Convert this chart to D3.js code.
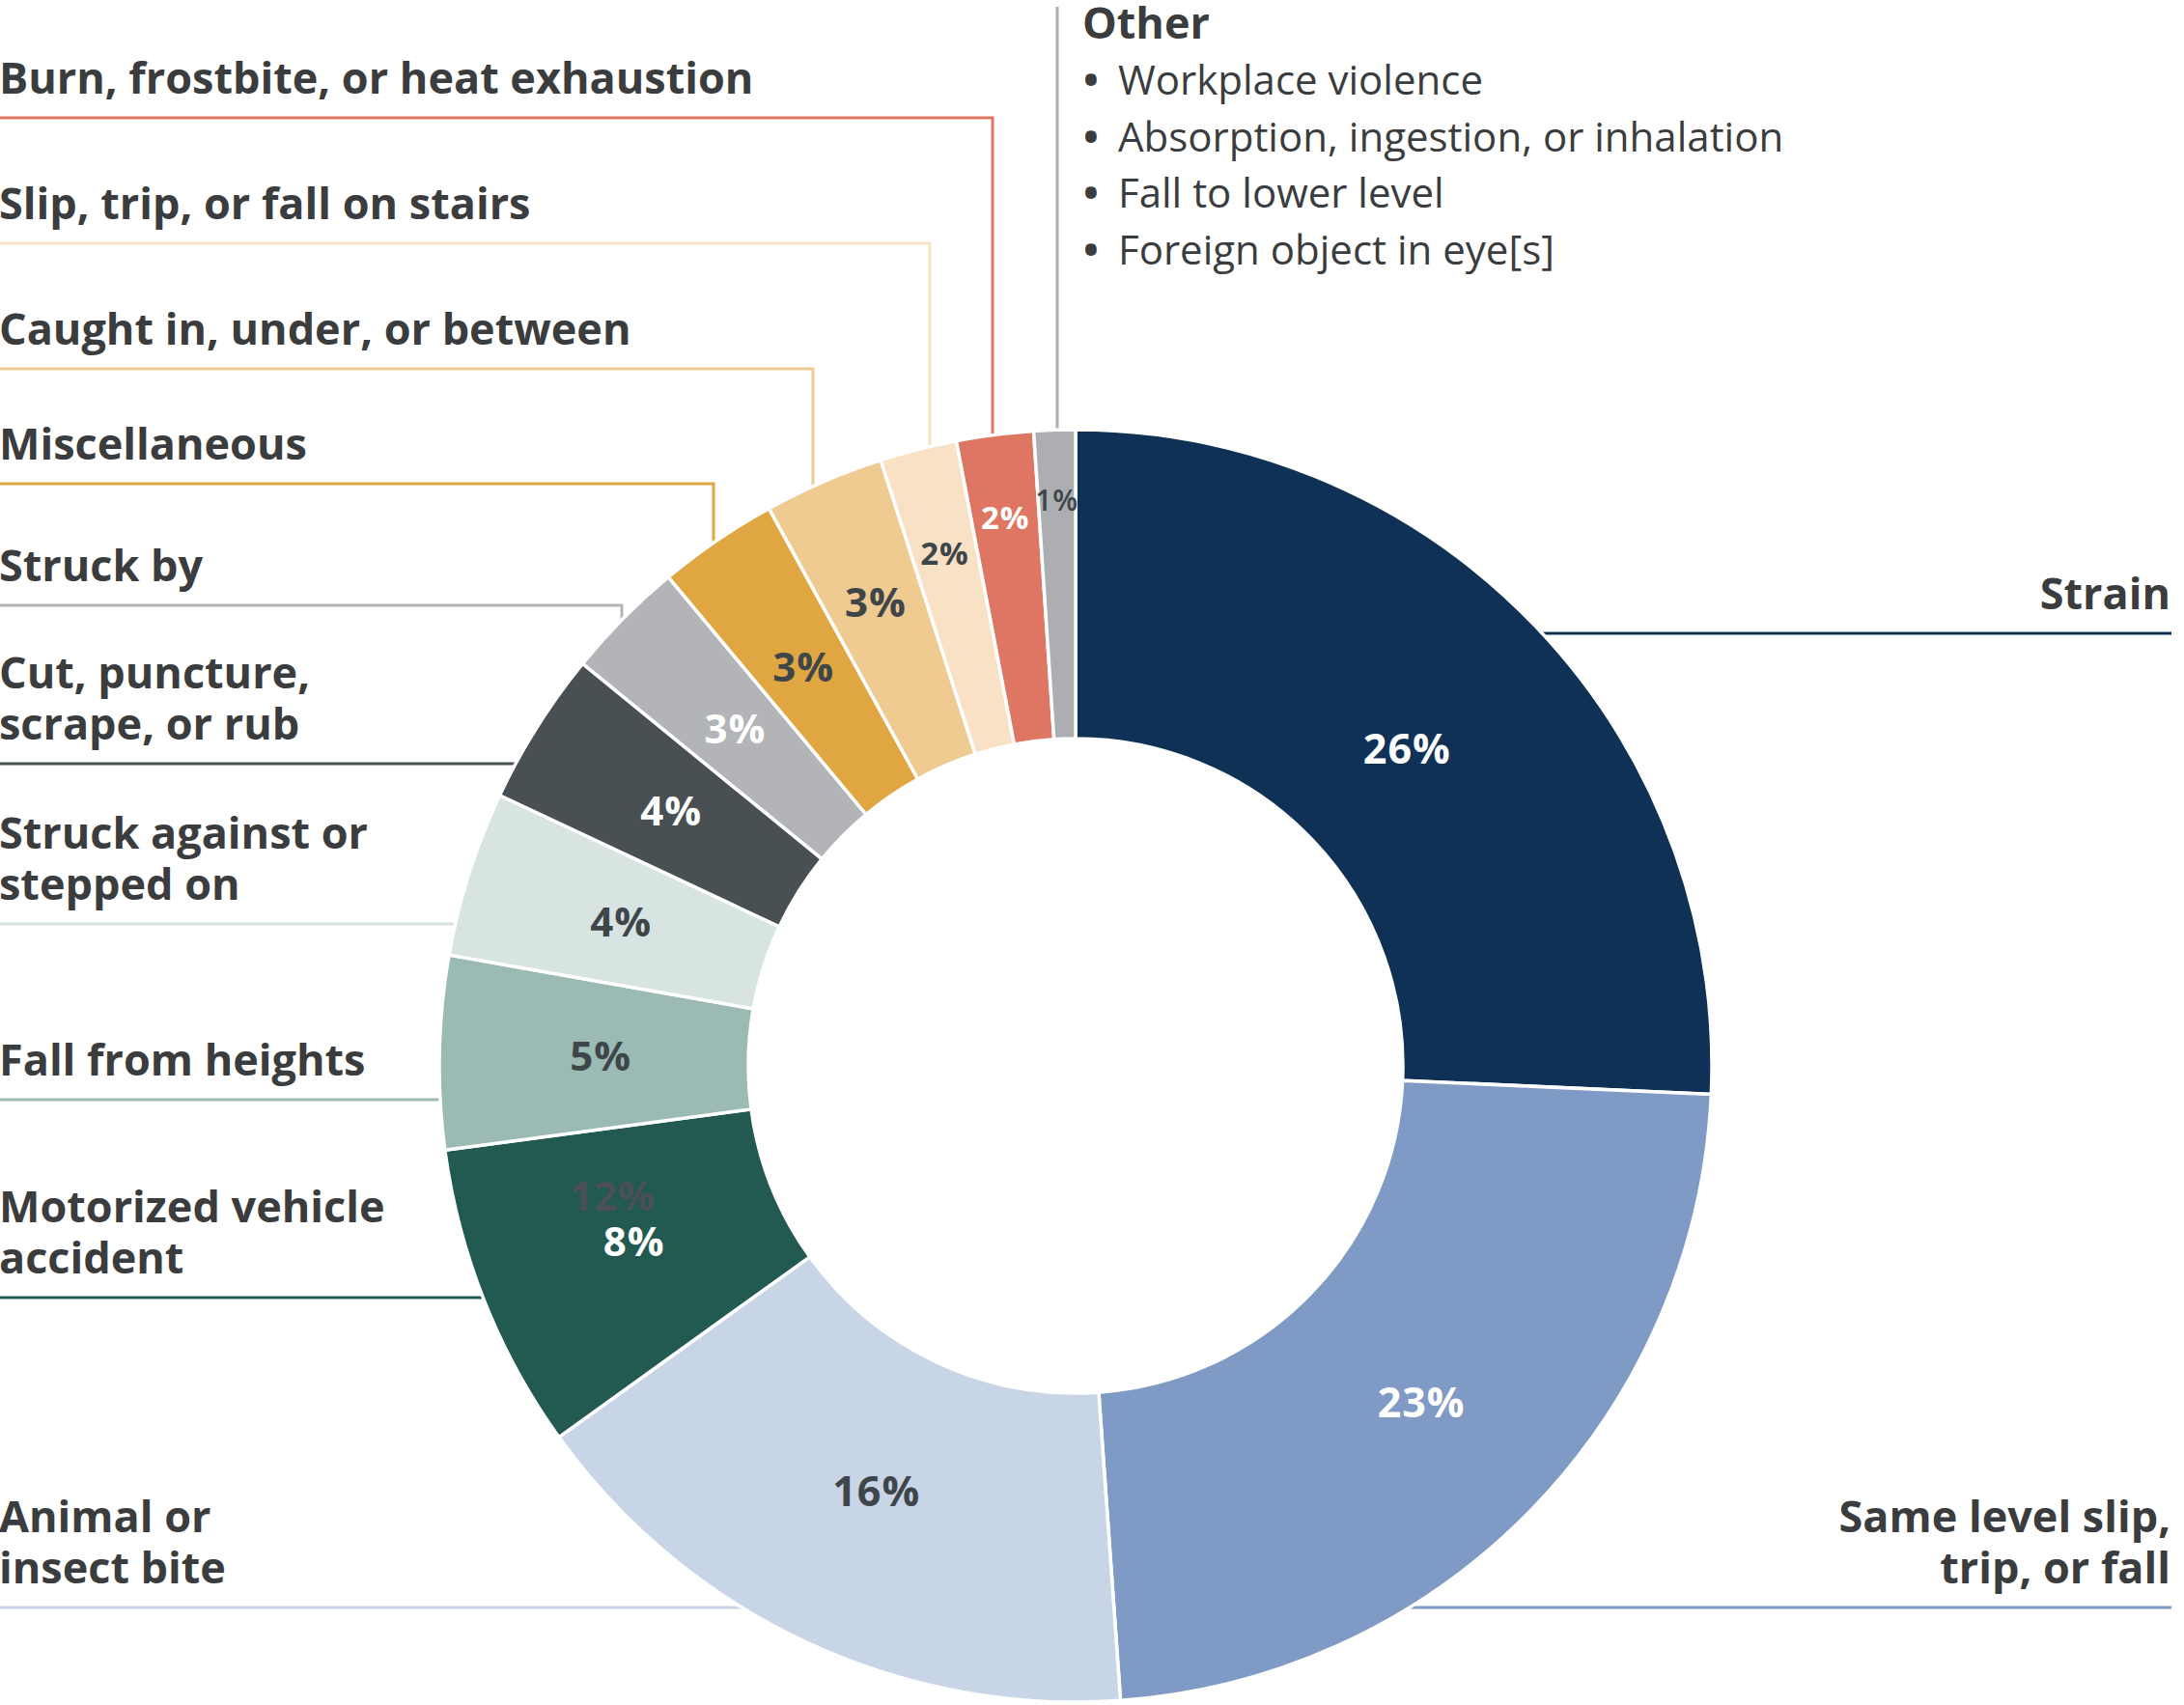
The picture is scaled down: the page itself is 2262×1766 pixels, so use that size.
<!DOCTYPE html>
<html><head><meta charset="utf-8">
<script src="https://cdn.jsdelivr.net/npm/d3@7"></script>
<style>html,body{margin:0;padding:0;background:#fff;} svg{display:block;}</style>
</head><body>
<svg id="chart" width="2262" height="1766"></svg>
<script>
// ---- data ----
const categories = [
  "Strain",
  "Same level slip, trip, or fall",
  "Animal or insect bite",
  "Motorized vehicle accident",
  "Fall from heights",
  "Struck against or stepped on",
  "Cut, puncture, scrape, or rub",
  "Struck by",
  "Miscellaneous",
  "Caught in, under, or between",
  "Slip, trip, or fall on stairs",
  "Burn, frostbite, or heat exhaustion",
  "Other"
];
const values = [25.7, 23.15, 16.2, 7.8, 4.9, 4.2, 3.9, 3.05, 3.05, 3.05, 1.95, 1.95, 1.05];
const pctLabels = ["26%","23%","16%","8%","5%","4%","4%","3%","3%","3%","2%","2%","1%"];
const labelLines = [
  ["Strain"],
  ["Same level slip,","trip, or fall"],
  ["Animal or","insect bite"],
  ["Motorized vehicle","accident"],
  ["Fall from heights"],
  ["Struck against or","stepped on"],
  ["Cut, puncture,","scrape, or rub"],
  ["Struck by"],
  ["Miscellaneous"],
  ["Caught in, under, or between"],
  ["Slip, trip, or fall on stairs"],
  ["Burn, frostbite, or heat exhaustion"],
  null
];
const otherTitle = "Other";
const otherItems = ["Workplace violence","Absorption, ingestion, or inhalation","Fall to lower level","Foreign object in eye[s]"];
const ghostLabel = "12%";

// ---- styles / layout ----
const colors = ["#0f3156","#7f9ac4","#c8d5e6","#225950","#9bbab3","#d7e4e1","#495053","#b2b4b7","#e0a641","#efcb92","#f8e1c5","#df7563","#adaeb2"];
const pctColors = ["#fff","#fff","#3f464a","#fff","#3f464a","#3f464a","#fff","#fff","#3f464a","#3f464a","#3f464a","#fff","#3f464a"];
const pctSize = [43,43,43,42,42,42,42,42,42,42,33,33,30];
const pctWeight = [700,700,700,700,700,700,700,700,700,700,700,700,600];
const pctRadius = [475,500,486,492,492,494,495,496,500,523,548,573,586];
const side = ["right","right","left","left","left","left","left","left","left","left","left","left",null];
const leaderY = [656,1665,1665,1344,1139,957,791,627,501,382,252,122,null];
const elbowX = [null,null,null,null,null,null,null,644,739,842,963,1028,null];

const W = 2262, H = 1766, cx = 1114, cy = 1104, R = 659, r0 = 339;
const textColor = "#3b3c3e";
const FONT = "'Open Sans', sans-serif";
const svg = d3.select("#chart");

const data = categories.map((c,i)=>({i, cat:c, value:values[i]}));
const pie = d3.pie().sort(null).value(d=>d.value).startAngle(0).endAngle(2*Math.PI);
const arcs = pie(data);
const arc = d3.arc().innerRadius(r0).outerRadius(R);

const ringX = y => Math.sqrt(Math.max(0, R*R - (y-cy)*(y-cy)));
const ringY = x => Math.sqrt(Math.max(0, R*R - (x-cx)*(x-cx)));

// leader lines
const lines = svg.append("g").attr("fill","none").attr("stroke-width",3);
arcs.forEach(a => {
  const i = a.data.i;
  if (leaderY[i] == null) return;
  const y = leaderY[i];
  let p;
  if (side[i] === "right") {
    p = `M${W-13},${y}H${cx + ringX(y) - 6}`;
  } else if (elbowX[i] != null) {
    const ex = elbowX[i];
    p = `M0,${y}H${ex}V${cy - ringY(ex) + 6}`;
  } else {
    p = `M0,${y}H${cx - ringX(y) + 6}`;
  }
  lines.append("path").attr("d", p).attr("stroke", colors[i]);
});
// "Other" vertical leader
const otherX = 1095;
lines.append("path").attr("d", `M${otherX},7V${cy - ringY(otherX) + 6}`).attr("stroke", colors[12]);

// donut
const g = svg.append("g").attr("transform", `translate(${cx},${cy})`);
g.selectAll("path.slice").data(arcs).join("path")
  .attr("class","slice")
  .attr("d", arc)
  .attr("fill", d => colors[d.data.i])
  .attr("stroke", "#fff")
  .attr("stroke-width", 3.5)
  .attr("stroke-linejoin","miter");

// percentage labels
const pos = (a, r, dAng=0) => {
  const ang = (a.startAngle + a.endAngle)/2 + dAng;
  return [Math.sin(ang)*r, -Math.cos(ang)*r];
};
// ghost label behind motorized slice
{
  const a = arcs[3];
  const [x,y] = pos(a, 498, 6*Math.PI/180);
  g.append("text").attr("x", x).attr("y", y).attr("dy","0.36em")
    .attr("text-anchor","middle").attr("font-family",FONT).attr("font-weight",700)
    .attr("font-size",42).attr("letter-spacing",1).attr("fill","#4a5053").text(ghostLabel);
}
g.selectAll("text.pct").data(arcs).join("text")
  .attr("class","pct")
  .attr("x", d => pos(d, pctRadius[d.data.i])[0])
  .attr("y", d => pos(d, pctRadius[d.data.i])[1])
  .attr("dy","0.36em")
  .attr("text-anchor","middle")
  .attr("font-family",FONT)
  .attr("font-weight", d => pctWeight[d.data.i])
  .attr("font-size", d => pctSize[d.data.i])
  .attr("letter-spacing", 1)
  .attr("fill", d => pctColors[d.data.i])
  .text(d => pctLabels[d.data.i]);

// category labels (multi-line labels as one text with tspans)
const labG = svg.append("g").attr("font-family",FONT).attr("font-weight",700)
  .attr("font-size",45).attr("fill",textColor);
categories.forEach((c,i) => {
  if (!labelLines[i]) return;
  const ls = labelLines[i];
  const baseLast = leaderY[i] - 25;
  const right = side[i] === "right";
  const x = right ? W-14 : -1;
  const t = labG.append("text")
    .attr("x", x)
    .attr("y", baseLast - (ls.length-1)*53)
    .attr("text-anchor", right ? "end" : "start");
  ls.forEach((s,k) => {
    t.append("tspan").attr("x", x).attr("dy", k === 0 ? 0 : 53).text(s);
  });
});

// Other block
const og = svg.append("g").attr("font-family",FONT).attr("fill",textColor);
og.append("text").attr("x",1121).attr("y",40).attr("font-weight",700).attr("font-size",45).text(otherTitle);
otherItems.forEach((t,k) => {
  const y = 98 + k*58.7;
  og.append("text").attr("x",1130).attr("y",y).attr("text-anchor","middle").attr("font-weight",700).attr("font-size",42).text("•");
  og.append("text").attr("x",1158).attr("y",y).attr("font-size",42).text(t);
});
</script>
</body></html>
